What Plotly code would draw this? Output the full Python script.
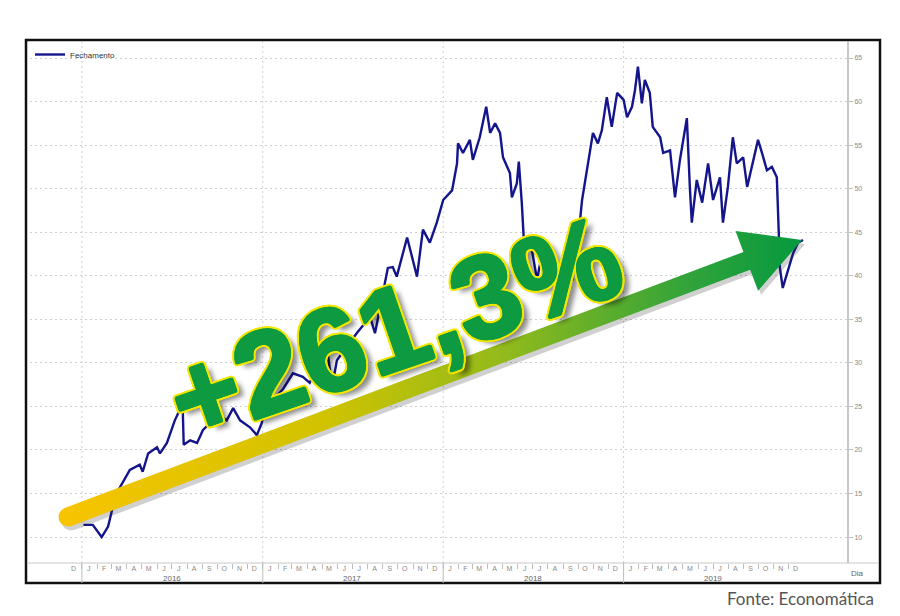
import numpy as np
import pandas as pd
import plotly.graph_objects as go

dates = [
    "2016-01-04", "2016-01-23", "2016-02-10", "2016-02-23", "2016-03-02", "2016-03-08",
    "2016-03-18", "2016-04-07", "2016-04-27", "2016-05-03", "2016-05-14", "2016-06-01",
    "2016-06-07", "2016-06-21", "2016-07-07", "2016-07-17", "2016-07-23", "2016-07-25",
    "2016-08-07", "2016-08-21", "2016-09-02", "2016-09-22", "2016-10-06", "2016-10-20",
    "2016-11-02", "2016-11-16", "2016-12-06", "2016-12-20", "2016-12-30", "2017-01-05",
    "2017-01-21", "2017-02-11", "2017-03-03", "2017-03-23", "2017-04-06", "2017-05-11",
    "2017-05-21", "2017-05-31", "2017-07-10", "2017-08-06", "2017-08-16", "2017-08-26",
    "2017-09-11", "2017-09-21", "2017-09-29", "2017-10-20", "2017-11-01", "2017-11-09",
    "2017-11-21", "2017-12-05", "2017-12-19", "2018-01-01", "2018-01-19", "2018-01-29",
    "2018-01-31", "2018-02-10", "2018-02-24", "2018-03-02", "2018-03-16", "2018-03-22",
    "2018-03-29", "2018-04-06", "2018-04-16", "2018-04-26", "2018-05-02", "2018-05-16",
    "2018-05-20", "2018-05-30", "2018-06-03", "2018-06-09", "2018-06-15", "2018-06-26",
    "2018-07-10", "2018-07-22", "2018-08-05", "2018-08-21", "2018-09-08", "2018-09-19",
    "2018-09-29", "2018-10-09", "2018-10-19", "2018-10-31", "2018-11-10", "2018-11-18",
    "2018-11-28", "2018-12-08", "2018-12-19", "2019-01-01", "2019-01-08", "2019-01-18",
    "2019-01-24", "2019-01-30", "2019-02-07", "2019-02-13", "2019-02-23", "2019-03-01",
    "2019-03-16", "2019-03-22", "2019-04-05", "2019-04-15", "2019-04-25", "2019-05-05",
    "2019-05-09", "2019-05-15", "2019-05-19", "2019-05-29", "2019-06-09", "2019-06-21",
    "2019-07-01", "2019-07-15", "2019-07-21", "2019-07-31", "2019-08-10", "2019-08-18",
    "2019-08-31", "2019-09-08", "2019-09-20", "2019-09-30", "2019-10-08", "2019-10-18",
    "2019-10-28", "2019-11-07", "2019-11-11", "2019-11-13", "2019-11-19", "2019-11-30",
    "2019-12-10", "2019-12-20", "2019-12-30",
]
closes = [
    11.4, 11.4, 10.0, 11.2, 13.1, 15.0,
    15.7, 17.7, 18.3, 17.5, 19.6, 20.3,
    19.6, 20.8, 23.4, 24.6, 24.8, 20.6,
    21.1, 20.8, 22.3, 23.4, 24.0, 23.4,
    24.8, 23.4, 22.6, 21.7, 23.1, 24.9,
    25.7, 27.0, 28.8, 28.4, 27.7, 31.8,
    27.2, 30.3, 33.4, 35.3, 33.4, 36.4,
    40.9, 41.0, 39.9, 44.4, 41.8, 39.9,
    45.3, 43.8, 46.1, 48.7, 49.8, 52.9,
    55.2, 54.1, 55.6, 53.3, 55.9, 57.5,
    59.4, 56.4, 57.5, 56.4, 53.6, 51.8,
    49.0, 50.6, 53.1, 48.4, 42.2, 44.1,
    39.5, 43.3, 41.4, 40.3, 39.1, 39.5,
    43.0, 48.7, 52.1, 56.4, 55.2, 56.7,
    60.5, 57.1, 61.0, 60.2, 58.2, 59.4,
    61.3, 64.0, 59.8, 62.5, 61.0, 57.1,
    55.9, 54.1, 54.4, 49.0, 53.3, 57.1,
    58.1, 50.2, 46.1, 51.0, 48.4, 52.9,
    48.7, 51.3, 46.1, 50.2, 55.9, 52.9,
    53.6, 50.2, 53.3, 55.6, 54.1, 52.1,
    52.5, 51.3, 44.9, 41.0, 38.6, 40.7,
    42.6, 43.8, 44.1,
]

month_letters = ["J", "F", "M", "A", "M", "J", "J", "A", "S", "O", "N", "D"]
years = ["2016", "2017", "2018", "2019"]
y_ticks = [10, 15, 20, 25, 30, 35, 40, 45, 50, 55, 60, 65]
series_name = "Fechamento"
headline = "+261,3%"
source = "Fonte: Economática"

W, H = 900, 616
NAVY = "#14148c"
GRID = "#cfcfcf"
TXT = "#7a7a7a"
FONT = "Liberation Sans"


def px_x(p):
    return p / W


def px_y(p):
    return 1 - p / H


month_starts = pd.date_range("2015-12-01", "2019-12-01", freq="MS")
month_mids = month_starts + pd.Timedelta(days=14)
month_text = [month_letters[d.month - 1] for d in month_starts]
year_starts = [f"{y}-01-01" for y in years]
year_mids = [f"{y}-07-01" for y in years]

fig = go.Figure()

fig.add_trace(go.Scatter(
    x=dates, y=closes, mode="lines", name=series_name,
    line=dict(color=NAVY, width=2.4),
    xaxis="x", yaxis="y",
))
# invisible trace carrying the month-boundary tick axis
fig.add_trace(go.Scatter(
    x=[dates[0]], y=[closes[0]], mode="markers", marker=dict(opacity=0),
    showlegend=False, hoverinfo="skip", xaxis="x2", yaxis="y",
))

# arrow decoration, in figure pixels on a full-page overlay axis
S = np.array([68.0, 517.0])
T = np.array([802.0, 240.0])
u = (T - S) / np.linalg.norm(T - S)
n = np.array([-u[1], u[0]])
shaft_hw, head_hw, head_len = 9.5, 32.0, 59.0
B = T - u * head_len
ang = np.linspace(0, np.pi, 24)
arc = [S + n * shaft_hw * np.cos(a) - u * shaft_hw * np.sin(a) for a in ang]
pts = [S + n * shaft_hw, B + n * shaft_hw, B + n * head_hw, T,
       B - n * head_hw, B - n * shaft_hw, S - n * shaft_hw] + arc[::-1]
pts = np.array(pts)

fig.add_trace(go.Scatter(
    x=pts[:, 0] + 3, y=pts[:, 1] + 4, mode="lines", fill="toself",
    fillcolor="rgba(40,40,40,0.22)", line=dict(width=0),
    showlegend=False, hoverinfo="skip", xaxis="x3", yaxis="y3",
))
fig.add_trace(go.Scatter(
    x=pts[:, 0], y=pts[:, 1], mode="lines", fill="toself",
    fillgradient=dict(
        type="horizontal", start=S[0] - shaft_hw, stop=T[0],
        colorscale=[[0, "#f8c400"], [0.35, "#d2c300"], [0.6, "#92ba1c"],
                    [0.85, "#30a33a"], [1, "#05993f"]],
    ),
    line=dict(width=0), showlegend=False, hoverinfo="skip",
    xaxis="x3", yaxis="y3",
))

shapes = [
    # outer frame
    dict(type="rect", xref="paper", yref="paper", x0=px_x(26), x1=px_x(880),
         y0=px_y(583), y1=px_y(40), line=dict(color="#111", width=2.5)),
    # x baseline
    dict(type="line", xref="paper", yref="paper", x0=px_x(27), x1=px_x(878),
         y0=px_y(563), y1=px_y(563), line=dict(color="#c8c8c8", width=1)),
]
for ys in year_starts:
    shapes.append(dict(type="line", xref="x", yref="paper", x0=ys, x1=ys,
                       y0=px_y(563), y1=px_y(42), layer="below",
                       line=dict(color=GRID, width=1, dash="2px,3px")))
    shapes.append(dict(type="line", xref="x", yref="paper", x0=ys, x1=ys,
                       y0=px_y(583), y1=px_y(563),
                       line=dict(color="#bdbdbd", width=1)))

annotations = [
    dict(text=y, x=m, xref="x", y=px_y(578), yref="paper", yanchor="middle",
         showarrow=False, font=dict(family=FONT, size=8, color="#666"))
    for y, m in zip(years, year_mids)
]
annotations += [
    dict(text="Dia", x=px_x(866), y=px_y(573), xref="paper", yref="paper",
         yanchor="middle", showarrow=False,
         font=dict(family=FONT, size=8, color="#666")),
    dict(text=source, x=px_x(876), y=px_y(598), xref="paper", yref="paper",
         xanchor="right", yanchor="middle", showarrow=False,
         font=dict(family="Lato", size=17, color="#555")),
]


def ring(r, color, steps=16):
    return [f"{r * np.cos(a):.1f}px {r * np.sin(a):.1f}px 0 {color}"
            for a in np.linspace(0, 2 * np.pi, steps, endpoint=False)]


shadow = ", ".join(ring(1.5, "#0e9a41", 8) + ring(3.5, "#f3e600", 16)
                   + ["6px 7px 5px rgba(0,0,0,0.45)"])
annotations.append(dict(
    text=headline, x=394, y=328, xref="x3", yref="y3", showarrow=False,
    xanchor="center", yanchor="middle", textangle=-19,
    font=dict(family=FONT, size=118, weight="bold", color="#0e9a41",
              shadow=shadow),
))

fig.update_layout(
    width=W, height=H,
    margin=dict(l=0, r=0, t=0, b=0),
    paper_bgcolor="white",
    plot_bgcolor="rgba(0,0,0,0)",
    font=dict(family=FONT, size=8, color=TXT),
    showlegend=True,
    legend=dict(x=px_x(30), y=px_y(40), xanchor="left", yanchor="top",
                bgcolor="rgba(0,0,0,0)", itemwidth=30,
                font=dict(family=FONT, size=8, color="#333")),
    xaxis=dict(
        domain=[px_x(30), px_x(847)], range=["2015-09-18", "2020-03-28"],
        type="date", tickmode="array", tickvals=month_mids, ticktext=month_text,
        ticks="", ticklen=0, showgrid=False, zeroline=False, showline=False,
        tickfont=dict(size=7, color="#8a8a8a"), anchor="y",
    ),
    xaxis2=dict(
        overlaying="x", matches="x", range=["2015-09-18", "2020-03-28"],
        type="date", tickmode="array", tickvals=month_starts[1:],
        ticks="outside", ticklen=5, tickcolor="#bdbdbd", showticklabels=False,
        showgrid=False, zeroline=False, showline=False, anchor="y", side="bottom",
    ),
    yaxis=dict(
        domain=[px_y(563), px_y(42)], range=[7.02, 66.84], side="right",
        tickmode="array", tickvals=y_ticks,
        showgrid=True, gridcolor=GRID, griddash="2px,3px", gridwidth=1,
        showline=True, linecolor="#c8c8c8", linewidth=2,
        ticks="outside", ticklen=4, tickcolor="#c0c0c0",
        tickfont=dict(size=7, color="#8a8a8a"), zeroline=False,
    ),
    xaxis3=dict(domain=[0, 1], range=[0, W], visible=False, anchor="y3",
                fixedrange=True),
    yaxis3=dict(domain=[0, 1], range=[H, 0], visible=False, anchor="x3",
                fixedrange=True),
    shapes=shapes,
    annotations=annotations,
)

fig.write_html("out.html", config={"displayModeBar": False},
               post_script="document.body.style.margin='0';")
